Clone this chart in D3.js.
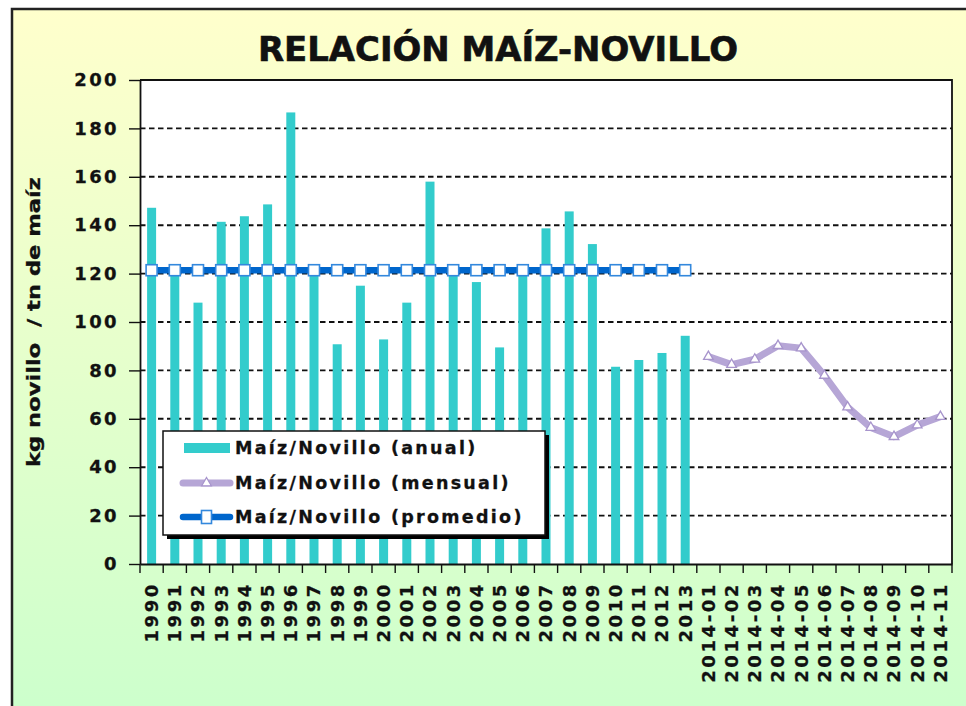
<!DOCTYPE html>
<html><head><meta charset="utf-8">
<script src="https://cdn.jsdelivr.net/npm/d3@7"></script>
<style>body{margin:0;background:#fff;}svg{display:block;}</style>
</head><body>
<script>
const years = ["1990","1991","1992","1993","1994","1995","1996","1997","1998","1999","2000","2001","2002","2003","2004","2005","2006","2007","2008","2009","2010","2011","2012","2013"];
const months = ["2014-01","2014-02","2014-03","2014-04","2014-05","2014-06","2014-07","2014-08","2014-09","2014-10","2014-11"];
const anual = [147.2,120.5,108,141.4,143.7,148.6,186.6,119.5,90.8,115,92.8,108,158,120,116.5,89.5,120,138.7,145.7,132.2,81.5,84.3,87.2,94.3];
const mensual = [85.7,82.4,84.6,90.2,89.2,77.9,64.8,56.4,52.6,57.4,60.9];
const promedio = years.map(() => 121.4);
const yTicks = [0,20,40,60,80,100,120,140,160,180,200];
const legendLabels = ["Maíz/Novillo (anual)","Maíz/Novillo (mensual)","Maíz/Novillo (promedio)"];

const W = 966, H = 706;
const FONT = "'DejaVu Sans', Verdana, sans-serif";
const svg = d3.select("body").append("svg").attr("width", W).attr("height", H);
const defs = svg.append("defs");
const grad = defs.append("linearGradient").attr("id","bg").attr("x1",0).attr("y1",0).attr("x2",0).attr("y2",1);
grad.append("stop").attr("offset","0%").attr("stop-color","#FFFFCC");
grad.append("stop").attr("offset","100%").attr("stop-color","#CCFFCC");

// frame
svg.append("rect").attr("x",12).attr("y",9).attr("width",W).attr("height",H).attr("fill","url(#bg)");
svg.append("path").attr("d",`M12,${H} V9 H${W}`).attr("fill","none").attr("stroke","#222").attr("stroke-width",2.5);

const m = {l:140, r:952, t:80, b:564};
const x = d3.scaleBand().domain(years.concat(months)).range([m.l, m.r]);
const y = d3.scaleLinear().domain([0,200]).range([m.b, m.t]);
const cx = d => x(d) + x.bandwidth()/2;

// plot area
svg.append("rect").attr("x",m.l).attr("y",m.t).attr("width",m.r-m.l).attr("height",m.b-m.t).attr("fill","#fff");

// gridlines
svg.append("g").selectAll("line").data(yTicks.filter(t => t>0 && t<200)).join("line")
  .attr("x1",m.l).attr("x2",m.r).attr("y1",d=>y(d)).attr("y2",d=>y(d))
  .attr("stroke","#111").attr("stroke-width",1.9).attr("stroke-dasharray","5.5,3.5");

// bars
const bw = 9;
svg.append("g").selectAll("rect").data(years.map((c,i)=>({c, v:anual[i]}))).join("rect")
  .attr("x", d => cx(d.c) - bw/2).attr("width", bw)
  .attr("y", d => y(d.v)).attr("height", d => y(0) - y(d.v))
  .attr("fill","#33CCCC");

// plot border (top, right)
svg.append("path").attr("d",`M${m.l},${m.t} H${m.r} V${m.b}`).attr("fill","none").attr("stroke","#111").attr("stroke-width",1.8);

// average line
const avgData = years.map((c,i)=>({c, v:promedio[i]}));
svg.append("path").datum(avgData)
  .attr("d", d3.line().x(d=>cx(d.c)).y(d=>y(d.v)))
  .attr("fill","none").attr("stroke","#0066CC").attr("stroke-width",6.5);
svg.append("g").selectAll("rect").data(avgData).join("rect")
  .attr("x", d=>cx(d.c)-5.5).attr("y", d=>y(d.v)-5.5).attr("width",11).attr("height",11)
  .attr("fill","#fff").attr("stroke","#3388DD").attr("stroke-width",1.6);

// monthly line
const monData = months.map((c,i)=>({c, v:mensual[i]}));
svg.append("path").datum(monData)
  .attr("d", d3.line().x(d=>cx(d.c)).y(d=>y(d.v)))
  .attr("fill","none").attr("stroke","#B6A6D6").attr("stroke-width",7).attr("stroke-linejoin","round");
const tri = d3.symbol().type(d3.symbolTriangle).size(40);
svg.append("g").selectAll("path").data(monData).join("path")
  .attr("transform", d=>`translate(${cx(d.c)},${y(d.v)})`).attr("d", tri)
  .attr("fill","#fff").attr("stroke","#A794CC").attr("stroke-width",1.3);

// y axis
const yAxis = svg.append("g").attr("transform",`translate(${m.l},0)`)
  .call(d3.axisLeft(y).tickValues(yTicks).tickSize(11).tickPadding(10).tickSizeOuter(0));
yAxis.select(".domain").attr("stroke","#111").attr("stroke-width",1.8);
yAxis.selectAll(".tick line").attr("stroke","#111").attr("stroke-width",1.4);
yAxis.selectAll(".tick text").attr("font-family",FONT).attr("font-weight","bold")
  .attr("font-size",18).attr("fill","#111").attr("letter-spacing",2.4)
  .attr("stroke","#111").attr("stroke-width",0.3);

// x axis
const xAxis = svg.append("g").attr("transform",`translate(0,${m.b})`)
  .call(d3.axisBottom(x).tickSize(0).tickSizeOuter(0));
xAxis.select(".domain").attr("stroke","#111").attr("stroke-width",1.8);
xAxis.selectAll(".tick line").remove();
xAxis.selectAll(".tick text")
  .attr("transform","translate(0,18) rotate(-90)")
  .attr("text-anchor","end").attr("dy","0.35em").attr("x",0).attr("y",0)
  .attr("font-family",FONT).attr("font-weight","bold")
  .attr("font-size",18).attr("fill","#111").attr("letter-spacing",2.6)
  .attr("stroke","#111").attr("stroke-width",0.3);
// boundary ticks
const bounds = x.domain().map(d => x(d)).concat([m.r]);
xAxis.append("g").selectAll("line").data(bounds).join("line")
  .attr("x1",d=>d).attr("x2",d=>d).attr("y1",0).attr("y2",9)
  .attr("stroke","#111").attr("stroke-width",1.4);

// y title
svg.append("text").attr("transform",`translate(40,${(m.t+m.b)/2}) rotate(-90)`)
  .attr("text-anchor","middle").attr("font-family",FONT)
  .attr("font-weight","bold").attr("font-size",17).attr("fill","#111")
  .attr("stroke","#111").attr("stroke-width",0.3)
  .attr("textLength",290).attr("lengthAdjust","spacingAndGlyphs")
  .attr("xml:space","preserve").style("white-space","pre")
  .text("kg novillo  / tn de maíz");

// title
svg.append("text").attr("x",498).attr("y",61).attr("text-anchor","middle")
  .attr("font-family",FONT).attr("font-weight","bold")
  .attr("font-size",33).attr("fill","#111").attr("stroke","#111").attr("stroke-width",0.6)
  .attr("textLength",480).attr("lengthAdjust","spacingAndGlyphs")
  .text("RELACIÓN MAÍZ-NOVILLO");

// legend
const lg = svg.append("g");
const L = {x:163, y:431, w:382, h:104};
lg.append("rect").attr("x",L.x+4).attr("y",L.y+4).attr("width",L.w).attr("height",L.h).attr("fill","#000");
lg.append("rect").attr("x",L.x).attr("y",L.y).attr("width",L.w).attr("height",L.h).attr("fill","#fff").attr("stroke","#111").attr("stroke-width",1.5);
const rowsY = [448, 483, 517];
const item = lg.selectAll("g.item").data(legendLabels).join("g").attr("class","item")
  .attr("transform",(d,i)=>`translate(0,${rowsY[i]})`);
item.filter((d,i)=>i===0).append("rect").attr("x",184).attr("y",-5).attr("width",46).attr("height",10).attr("fill","#33CCCC");
item.filter((d,i)=>i===1).append("line").attr("x1",183).attr("x2",230).attr("y1",0).attr("y2",0)
  .attr("stroke","#B6A6D6").attr("stroke-width",7).attr("stroke-linecap","round");
item.filter((d,i)=>i===1).append("path").attr("transform","translate(206.5,0)").attr("d",tri)
  .attr("fill","#fff").attr("stroke","#A794CC").attr("stroke-width",1.3);
item.filter((d,i)=>i===2).append("line").attr("x1",183).attr("x2",230).attr("y1",0).attr("y2",0)
  .attr("stroke","#0066CC").attr("stroke-width",6.5).attr("stroke-linecap","round");
item.filter((d,i)=>i===2).append("rect").attr("x",201.5).attr("y",-6.5).attr("width",10).attr("height",13)
  .attr("fill","#fff").attr("stroke","#3388DD").attr("stroke-width",1.6);
item.append("text").attr("x",235).attr("y",0).attr("dy","0.36em")
  .attr("font-family",FONT).attr("font-weight","bold")
  .attr("font-size",17.5).attr("fill","#111").attr("letter-spacing",2.3)
  .attr("stroke","#111").attr("stroke-width",0.3)
  .text(d=>d);
</script>
</body></html>
